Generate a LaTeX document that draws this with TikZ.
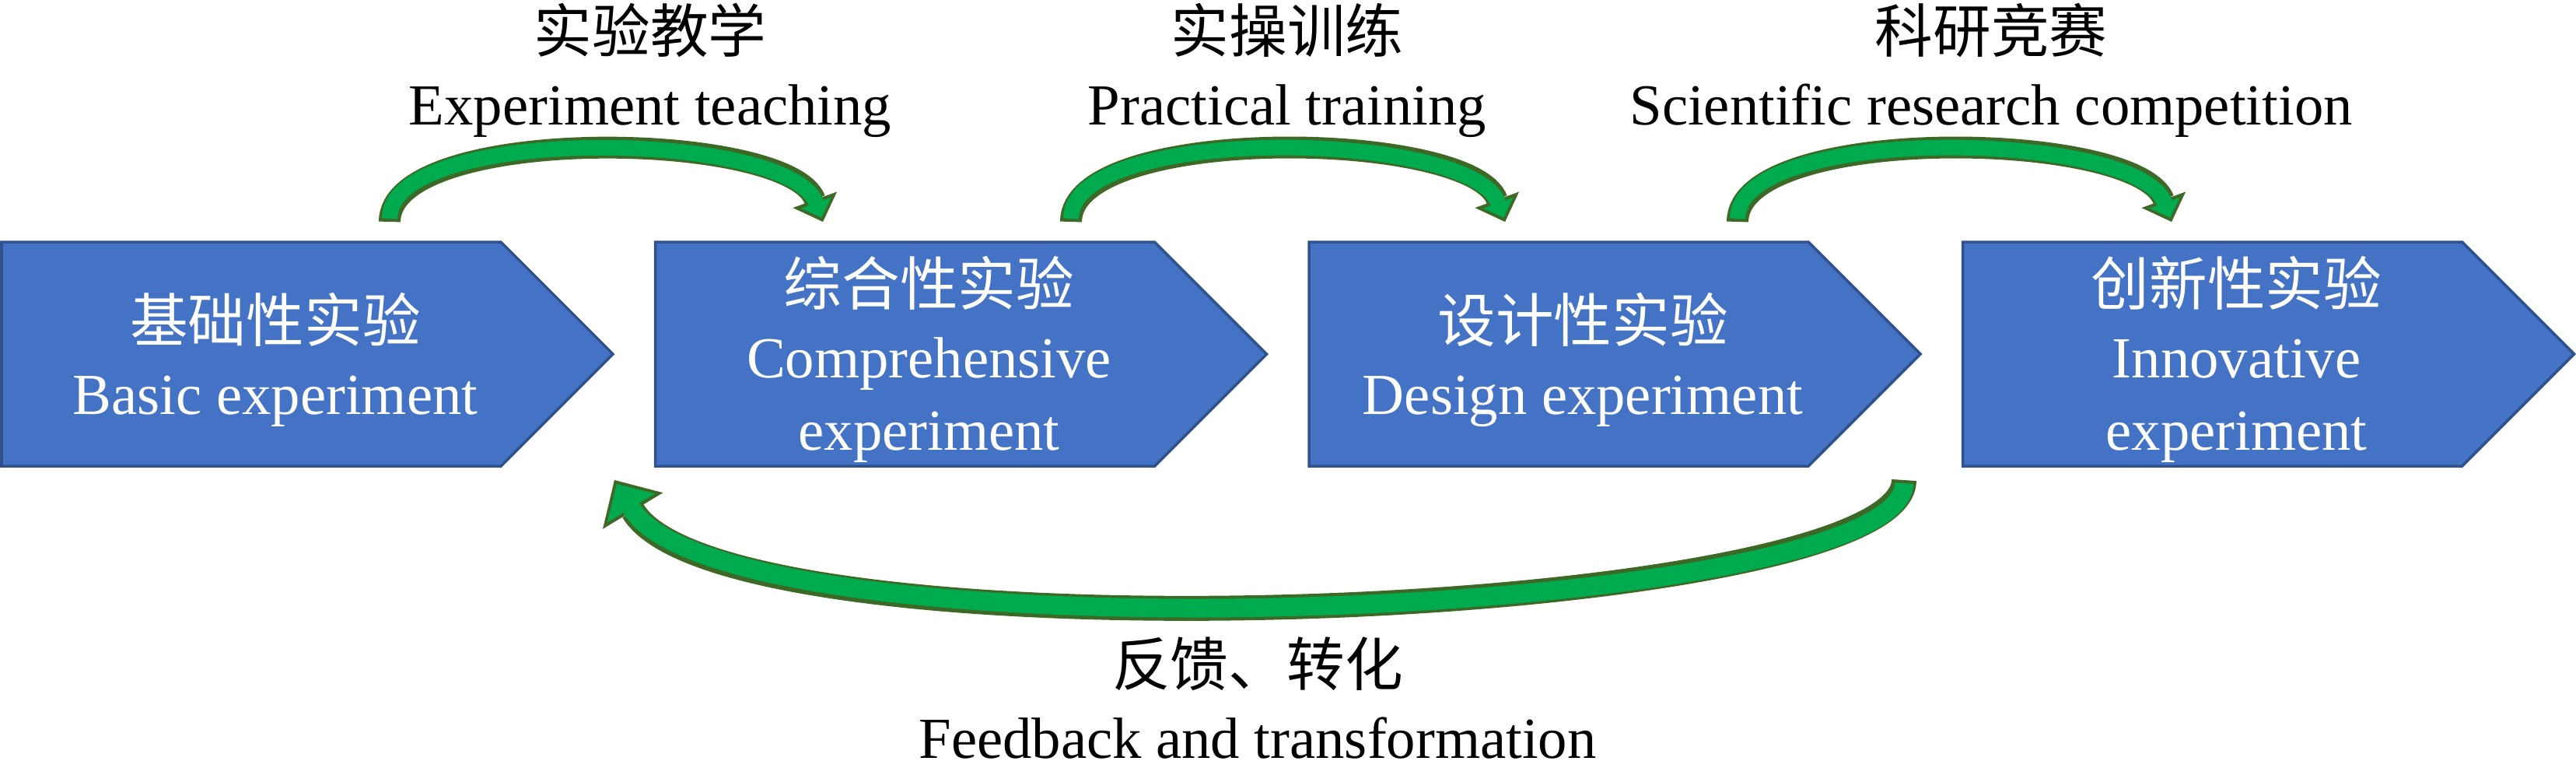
\documentclass[tikz,border=0pt]{standalone}
\usepackage{fontspec}
\setmainfont{Liberation Serif}
\newfontfamily\cjk{Noto Sans CJK SC}
\usepackage{tikz}
\definecolor{stageblue}{RGB}{68,114,196}
\definecolor{stageline}{RGB}{47,82,143}
\definecolor{loopgreen}{RGB}{0,170,78}
\definecolor{loopdark}{RGB}{61,104,38}
\usetikzlibrary{arrows.meta}
\tikzset{basic/.style={font=\fontsize{21.25}{26.5}\selectfont,align=center,inner sep=0pt}}
\tikzset{inside/.style={basic,text=white}}
\tikzset{outside/.style={basic,text=black}}
\tikzset{stage/.style={draw=stageline,fill=stageblue,line width=1pt}}
\tikzset{loopline/.style={draw=loopdark,line width=2.8mm,-{Triangle[length=3mm,width=6mm,line width=0.1pt]}}}
\tikzset{loopfill/.style={draw=loopgreen,line width=2mm,shorten <=0.4mm,shorten >=0.57mm,-{Triangle[length=2mm,width=4.1mm,line width=0.1pt]}}}
\tikzset{bigline/.style={draw=loopdark,line width=3.2mm,-{Triangle[length=4.6mm,width=9mm,line width=0.1pt]}}}
\tikzset{bigfill/.style={draw=loopgreen,line width=2.4mm,shorten <=0.4mm,shorten >=0.57mm,-{Triangle[length=3.6mm,width=7.1mm,line width=0.1pt]}}}

\begin{document}
\begin{tikzpicture}
\useasboundingbox (0,0) rectangle (33.12,-9.95);

% Define stages
\foreach \x in {0.02,8.425,16.83,25.235}
  \path[stage] (\x,-3.11) -- ++(6.42,0) -- ++(1.44,-1.44) -- ++(-1.44,-1.44) -- ++(-6.42,0) -- cycle;

\node[inside] (s1) at (3.54,-4.62) {{\cjk 基础性实验}\\Basic experiment};
\node[inside] (s2) at (11.945,-4.62) {{\cjk 综合性实验}\\Comprehensive\\experiment};
\node[inside] (s3) at (20.35,-4.62) {{\cjk 设计性实验}\\Design experiment};
\node[inside] (s4) at (28.755,-4.62) {{\cjk 创新性实验}\\Innovative\\experiment};

% Define arrow ends
\coordinate (t1) at (5.01,-2.85);
\coordinate (h1) at (10.58,-2.85);
\coordinate (t2) at (13.77,-2.85);
\coordinate (h2) at (19.35,-2.85);
\coordinate (t3) at (22.34,-2.85);
\coordinate (h3) at (27.92,-2.85);
\coordinate (tb) at (24.48,-6.17);
\coordinate (hb) at (7.90,-6.17);

% Define paths
\foreach \i in {1,2,3} {
  \draw[loopline] (t\i) to [out=90,in=110,looseness=0.58] (h\i);
  \draw[loopfill] (t\i) to [out=90,in=110,looseness=0.58] (h\i);
}
\draw[bigline] (tb) to [out=-90,in=-59,out distance=1.8cm,in distance=2.8cm] (hb);
\draw[bigfill] (tb) to [out=-90,in=-59,out distance=1.8cm,in distance=2.8cm] (hb);

% Add some text
\node[outside] (teach) at (8.36,-0.90) {{\cjk 实验教学}\\Experiment teaching};
\node[outside] (train) at (16.55,-0.90) {{\cjk 实操训练}\\Practical training};
\node[outside] (contest) at (25.60,-0.90) {{\cjk 科研竞赛}\\Scientific research competition};
\node[outside] (back) at (16.17,-8.97) {{\cjk 反馈、转化}\\Feedback and transformation};
\end{tikzpicture}
\end{document}
